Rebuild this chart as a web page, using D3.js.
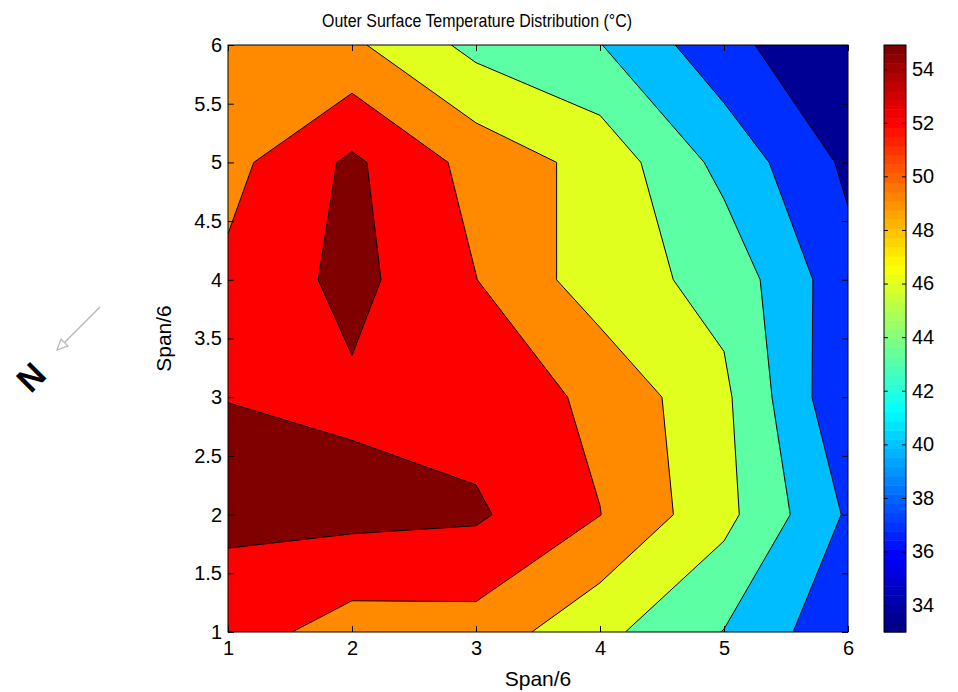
<!DOCTYPE html>
<html>
<head>
<meta charset="utf-8">
<script src="https://cdn.jsdelivr.net/npm/d3@7"></script>
<style>
  body { margin: 0; background: #fff; }
  text { font-family: "Liberation Sans", Arial, Helvetica, sans-serif; fill: #000; }
</style>
</head>
<body>
<svg id="chart" width="958" height="692"></svg>
<script>
// Measurement grid positions (Span/6)
const xValues = [1, 2, 3, 4, 5, 6];
const yValues = [1, 2, 3, 4, 5, 6];

// Outer surface temperature (°C) at each grid node, one row per y value (y = 1 first)
const tempY1 = [52.5, 49.6, 49.8, 45.8, 41.9, 36.7];
const tempY2 = [54.6, 54.86, 54.44, 51.05, 45.9, 38.6];
const tempY3 = [53.97, 53.5, 52.7, 50.4, 45.6, 36.3];
const tempY4 = [51.6, 54.9, 51.05, 46.36, 44.06, 37.0];
const tempY5 = [50.07, 54.55, 49.97, 46.94, 41.06, 35.4];
const tempY6 = [49.5, 48.53, 44.12, 42.1, 37.0, 33.0];

// Filled contour levels (°C)
const contourLevels = [36, 39, 42, 45, 48, 51, 54];

// Axis and colorbar ticks
const xTicks = [1, 2, 3, 4, 5, 6];
const yTicks = [1, 1.5, 2, 2.5, 3, 3.5, 4, 4.5, 5, 5.5, 6];
const colorbarTicks = [34, 36, 38, 40, 42, 44, 46, 48, 50, 52, 54];
const colorLimits = [33.0, 54.9];

const titleText = "Outer Surface Temperature Distribution (°C)";
const xLabelText = "Span/6";
const yLabelText = "Span/6";

// ---- styling / layout ----
const plot = { left: 228, right: 848, top: 45, bottom: 632 };
const cbar = { left: 884, width: 22 };
const tickLen = 6;
const fontTick = 20;

// jet colormap
function jet(t) {
  const c = v => Math.max(0, Math.min(1, v));
  const r = c(Math.min(4 * t - 1.5, -4 * t + 4.5));
  const g = c(Math.min(4 * t - 0.5, -4 * t + 3.5));
  const b = c(Math.min(4 * t + 0.5, -4 * t + 2.5));
  return d3.rgb(Math.round(r * 255), Math.round(g * 255), Math.round(b * 255)).formatHex();
}
// colormap positions used for the bands (lowest band first)
const bandShade = [0.02, 0.17, 0.31, 0.465, 0.595, 0.74, 0.875, 1.0];

const svg = d3.select("#chart");

const xScale = d3.scaleLinear().domain(d3.extent(xValues)).range([plot.left, plot.right]);
const yScale = d3.scaleLinear().domain(d3.extent(yValues)).range([plot.bottom, plot.top]);

// contour grid coordinates -> data coordinates (node i sits at i + 0.5)
const nx = xValues.length, ny = yValues.length;
const gridX = d3.scaleLinear().domain([0.5, nx - 0.5]).range(d3.extent(xValues));
const gridY = d3.scaleLinear().domain([0.5, ny - 0.5]).range(d3.extent(yValues));

const grid = [tempY1, tempY2, tempY3, tempY4, tempY5, tempY6].flat();
const bands = d3.contours().size([nx, ny]).thresholds(contourLevels)(grid);

const toScreen = d3.geoTransform({
  point(x, y) { this.stream.point(xScale(gridX(x)), yScale(gridY(y))); }
});
const path = d3.geoPath(toScreen);

svg.append("defs").append("clipPath").attr("id", "plotClip")
  .append("rect")
  .attr("x", plot.left).attr("y", plot.top)
  .attr("width", plot.right - plot.left).attr("height", plot.bottom - plot.top);

const field = svg.append("g").attr("clip-path", "url(#plotClip)");

// lowest band fills the whole plot area
field.append("rect")
  .attr("x", plot.left).attr("y", plot.top)
  .attr("width", plot.right - plot.left).attr("height", plot.bottom - plot.top)
  .attr("fill", jet(bandShade[0]));

field.selectAll("path.band").data(bands).join("path")
  .attr("class", "band")
  .attr("d", path)
  .attr("fill", (d, i) => jet(bandShade[i + 1]))
  .attr("stroke", "none");

field.selectAll("path.iso").data(bands).join("path")
  .attr("class", "iso")
  .attr("d", path)
  .attr("fill", "none")
  .attr("stroke", "#000")
  .attr("stroke-width", 1)
  .attr("stroke-linejoin", "round");

// axes: ticks pointing inward on all four sides
const axB = svg.append("g").attr("transform", `translate(0,${plot.bottom})`)
  .call(d3.axisBottom(xScale).tickValues(xTicks).tickSizeInner(-tickLen).tickSizeOuter(0).tickPadding(9).tickFormat(d3.format("")));
const axT = svg.append("g").attr("transform", `translate(0,${plot.top})`)
  .call(d3.axisTop(xScale).tickValues(xTicks).tickSizeInner(-tickLen).tickSizeOuter(0).tickFormat(""));
const axL = svg.append("g").attr("transform", `translate(${plot.left},0)`)
  .call(d3.axisLeft(yScale).tickValues(yTicks).tickSizeInner(-tickLen).tickSizeOuter(0).tickPadding(6).tickFormat(d3.format("")));
const axR = svg.append("g").attr("transform", `translate(${plot.right},0)`)
  .call(d3.axisRight(yScale).tickValues(yTicks).tickSizeInner(-tickLen).tickSizeOuter(0).tickFormat(""));
[axB, axT, axL, axR].forEach(a => {
  a.select(".domain").remove();
  a.selectAll("line").attr("stroke", "#000");
  a.selectAll("text").attr("font-size", fontTick).attr("font-family", null).style("fill", "#000");
});

svg.append("rect")
  .attr("x", plot.left).attr("y", plot.top)
  .attr("width", plot.right - plot.left).attr("height", plot.bottom - plot.top)
  .attr("fill", "none").attr("stroke", "#000").attr("stroke-width", 1);

// title and axis labels
svg.append("text").attr("x", 477).attr("y", 27)
  .attr("text-anchor", "middle").attr("font-size", 18.5)
  .attr("textLength", 310).attr("lengthAdjust", "spacingAndGlyphs")
  .text(titleText);
svg.append("text").attr("x", (plot.left + plot.right) / 2).attr("y", 686)
  .attr("text-anchor", "middle").attr("font-size", 21).text(xLabelText);
svg.append("text").attr("transform", `translate(171,${(plot.top + plot.bottom) / 2}) rotate(-90)`)
  .attr("text-anchor", "middle").attr("font-size", 21).text(yLabelText);

// colorbar
const cScale = d3.scaleLinear().domain(colorLimits).range([plot.bottom, plot.top]);
const nSteps = 64;
const stepVals = d3.range(nSteps);
const span = colorLimits[1] - colorLimits[0];
svg.append("g").selectAll("rect").data(stepVals).join("rect")
  .attr("x", cbar.left)
  .attr("width", cbar.width)
  .attr("y", i => cScale(colorLimits[0] + (i + 1) * span / nSteps))
  .attr("height", i => cScale(colorLimits[0] + i * span / nSteps) - cScale(colorLimits[0] + (i + 1) * span / nSteps) + 0.5)
  .attr("fill", i => jet(i / (nSteps - 1)));

const cbR = svg.append("g").attr("transform", `translate(${cbar.left + cbar.width},0)`)
  .call(d3.axisRight(cScale).tickValues(colorbarTicks).tickSizeInner(-4).tickSizeOuter(0).tickPadding(6).tickFormat(d3.format("")));
const cbL = svg.append("g").attr("transform", `translate(${cbar.left},0)`)
  .call(d3.axisLeft(cScale).tickValues(colorbarTicks).tickSizeInner(-4).tickSizeOuter(0).tickFormat(""));
[cbR, cbL].forEach(a => {
  a.select(".domain").remove();
  a.selectAll("line").attr("stroke", "#000");
  a.selectAll("text").attr("font-size", fontTick).attr("font-family", null).style("fill", "#000");
});
svg.append("rect")
  .attr("x", cbar.left).attr("y", plot.top)
  .attr("width", cbar.width).attr("height", plot.bottom - plot.top)
  .attr("fill", "none").attr("stroke", "#000").attr("stroke-width", 1);

// north arrow
const compass = svg.append("g");
compass.append("line")
  .attr("x1", 100).attr("y1", 307).attr("x2", 60).attr("y2", 347)
  .attr("stroke", "#b4b4b4").attr("stroke-width", 1.2);
compass.append("path")
  .attr("d", "M57,350 L61,339 L68,346 Z")
  .attr("fill", "#fff").attr("stroke", "#b4b4b4").attr("stroke-width", 1.2);
compass.append("text")
  .attr("transform", "translate(31,377) rotate(-45)")
  .attr("text-anchor", "middle").attr("dominant-baseline", "central")
  .attr("font-size", 34).attr("font-weight", "bold")
  .text("N");
</script>
</body>
</html>
